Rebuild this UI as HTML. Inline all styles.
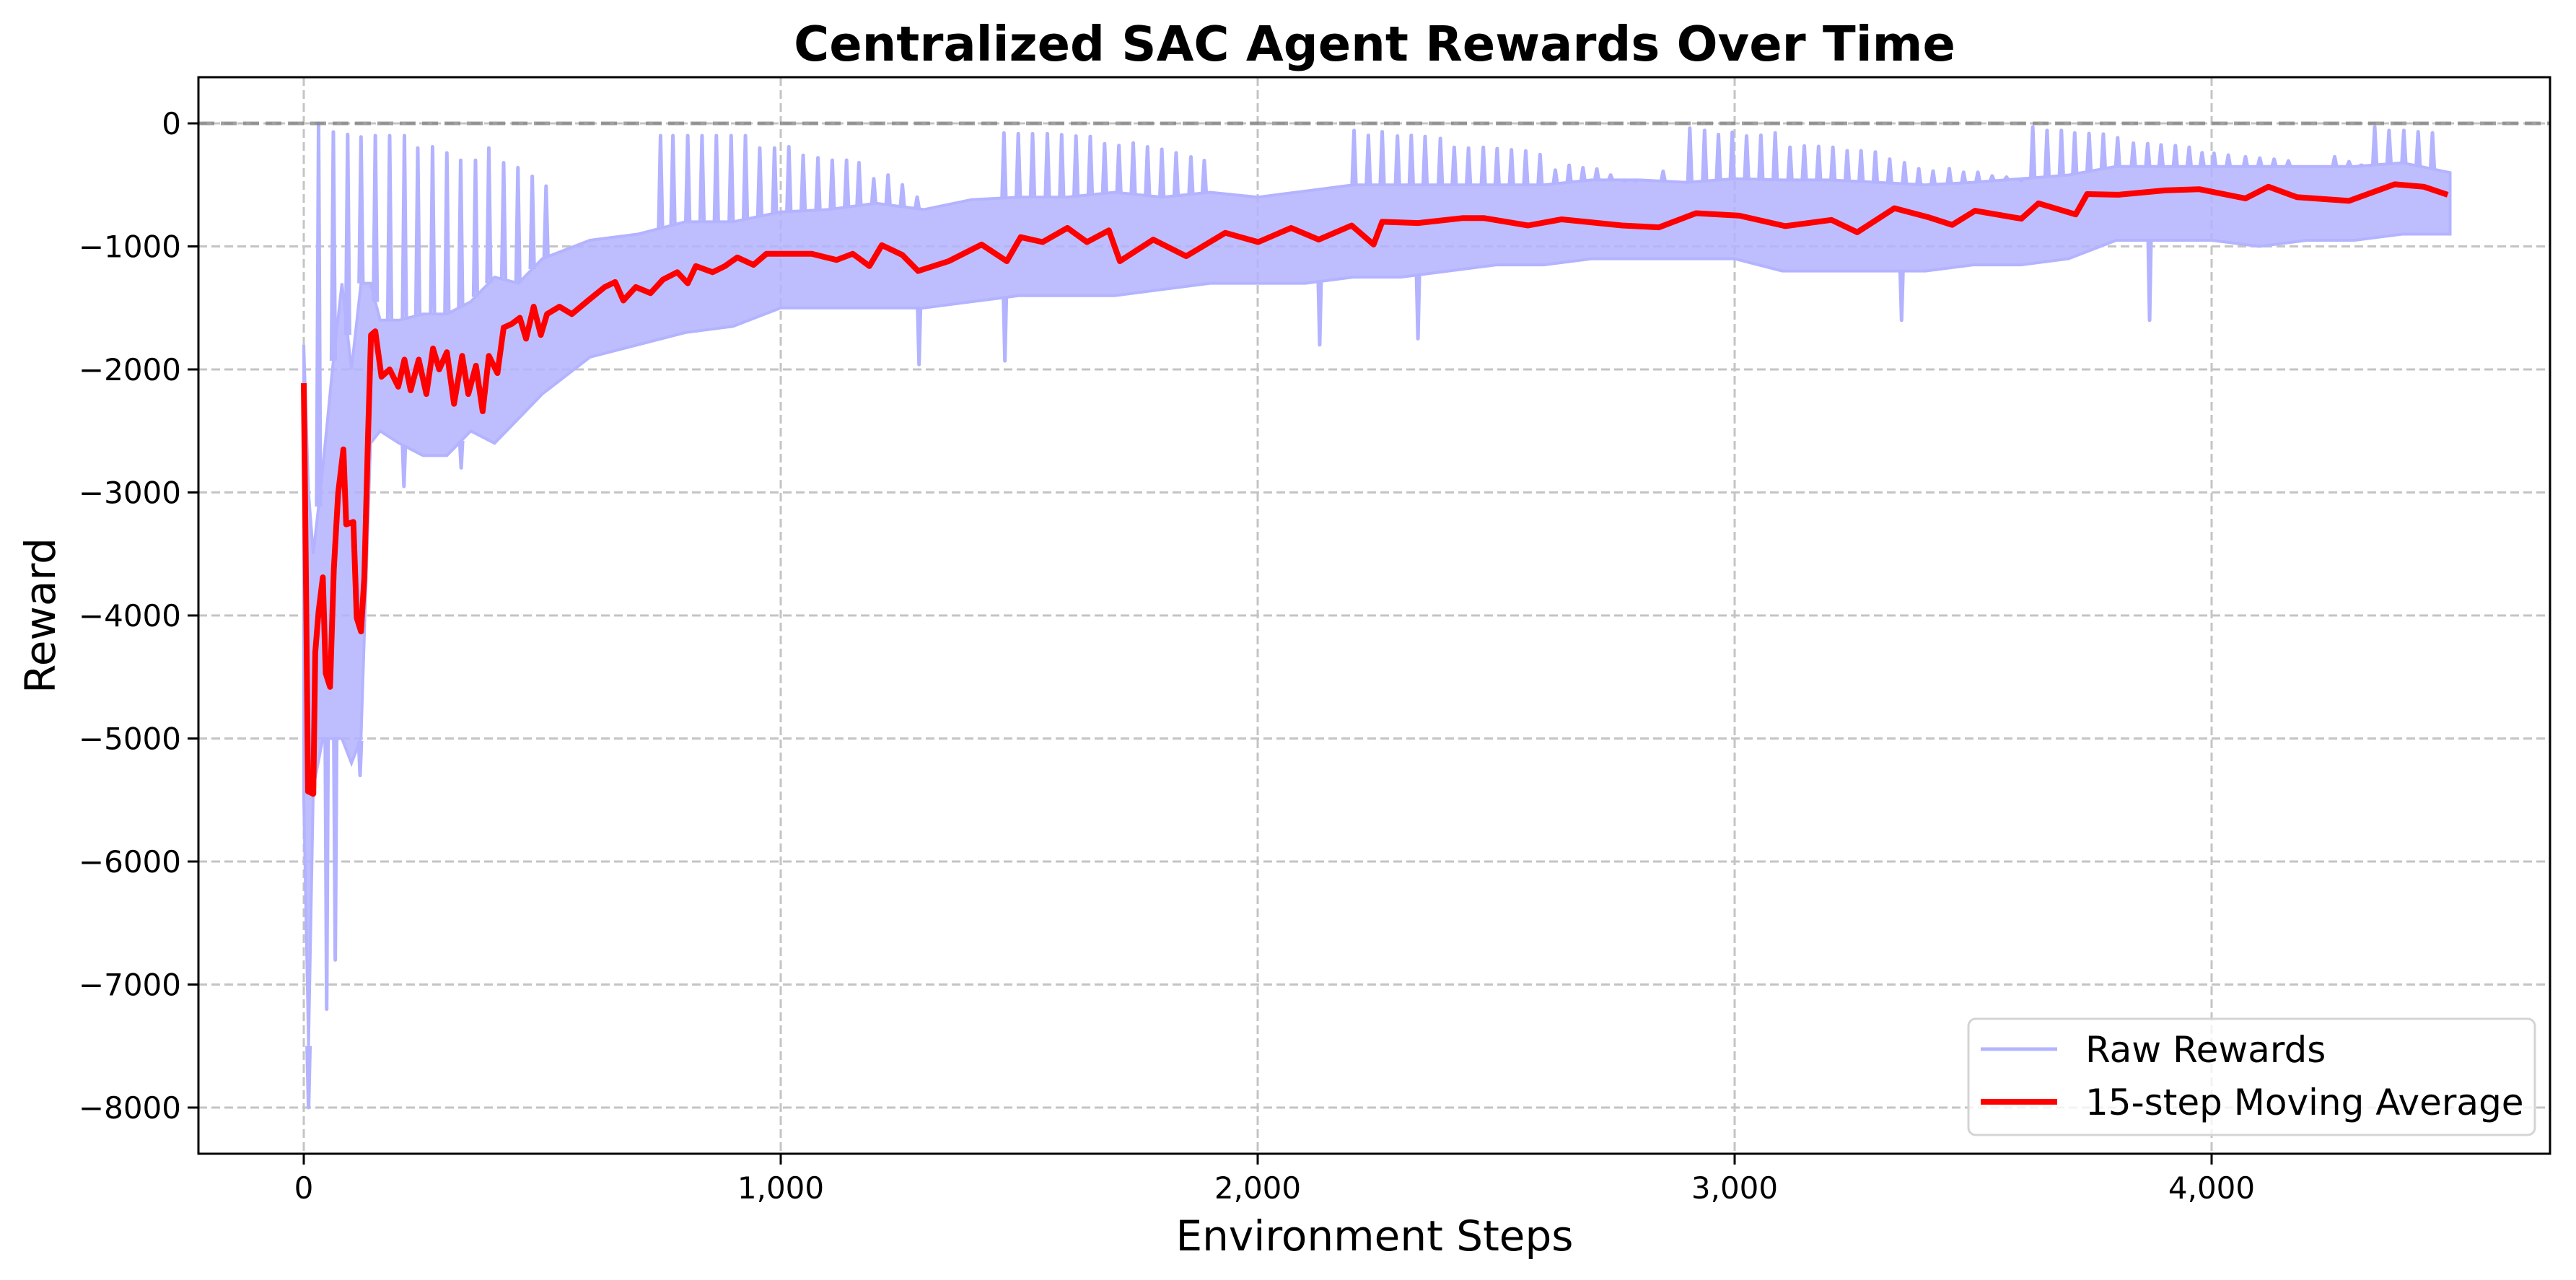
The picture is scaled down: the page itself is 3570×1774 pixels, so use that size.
<!DOCTYPE html>
<html><head><meta charset="utf-8"><style>
html,body{margin:0;padding:0;background:#fff;}
svg{display:block;font-family:"DejaVu Sans","Liberation Sans",sans-serif;}
</style></head><body>
<svg id="chart" xmlns="http://www.w3.org/2000/svg" width="3570" height="1774" viewBox="0 0 3570 1774">
<rect x="0" y="0" width="3570" height="1774" fill="#fff"/>
<g id="grid"></g>
<g id="series"></g>
<g id="axes"></g>
<text x="1905" y="84" text-anchor="middle" font-size="67" font-weight="bold">Centralized SAC Agent Rewards Over Time</text>
<text x="1905" y="1733" text-anchor="middle" font-size="58">Environment Steps</text>
<text transform="translate(76,853) rotate(-90)" text-anchor="middle" font-size="58">Reward</text>
<g>
<rect x="2728" y="1412" width="785" height="161" rx="10" fill="#fff" fill-opacity="0.8" stroke="#d4d4d4" stroke-width="3"/>
<g>
<line x1="2745" y1="1454" x2="2851" y2="1454" stroke="#b3b3ff" stroke-width="5"/>
<text x="2890" y="1472" font-size="50">Raw Rewards</text>
</g>
<g>
<line x1="2745" y1="1527" x2="2851" y2="1527" stroke="#ff0000" stroke-width="8"/>
<text x="2890" y="1545" font-size="50">15-step Moving Average</text>
</g>
</g>
</svg>
<script>
const xTicks = [0, 1000, 2000, 3000, 4000];
const xTickLabels = ["0", "1,000", "2,000", "3,000", "4,000"];
const yTicks = [0, -1000, -2000, -3000, -4000, -5000, -6000, -7000, -8000];
const yTickLabels = ["0", "\u22121000", "\u22122000", "\u22123000", "\u22124000", "\u22125000", "\u22126000", "\u22127000", "\u22128000"];

const maSteps = [0,5,9,20,24,31,40,46,55,63,72,83,89,104,111,120,127,135,141,150,163,180,198,211,224,241,257,271,284,300,315,332,345,361,375,388,406,419,436,453,466,482,497,510,536,562,596,631,653,670,696,727,753,783,805,822,857,883,909,943,970,1004,1065,1117,1151,1186,1212,1255,1288,1352,1421,1474,1503,1549,1601,1642,1688,1711,1781,1850,1932,2001,2070,2128,2197,2243,2261,2336,2429,2475,2567,2637,2764,2841,2919,3010,3106,3203,3257,3335,3408,3456,3504,3601,3637,3715,3739,3805,3902,3974,4071,4119,4179,4288,4384,4445,4495];
const maValues = [-2112,-3850,-5430,-5450,-4300,-3970,-3690,-4470,-4580,-3630,-3010,-2650,-3260,-3240,-4020,-4130,-3690,-2510,-1720,-1690,-2060,-2000,-2140,-1920,-2170,-1920,-2200,-1830,-2000,-1860,-2280,-1890,-2200,-1970,-2340,-1890,-2030,-1660,-1630,-1580,-1750,-1490,-1720,-1550,-1490,-1550,-1440,-1330,-1290,-1440,-1330,-1380,-1270,-1210,-1300,-1160,-1210,-1160,-1090,-1150,-1060,-1060,-1060,-1110,-1060,-1160,-990,-1070,-1200,-1120,-985,-1120,-925,-965,-850,-965,-870,-1120,-945,-1080,-890,-965,-850,-945,-830,-985,-800,-810,-770,-770,-830,-780,-830,-845,-730,-750,-835,-785,-885,-690,-765,-825,-710,-775,-650,-740,-575,-580,-545,-535,-610,-515,-600,-630,-495,-515,-580];

const rawSteps = [0,10,20,40,60,80,100,120,140,160,200,250,300,350,400,450,500,600,700,800,900,1000,1100,1200,1300,1400,1500,1600,1700,1800,1900,2000,2100,2200,2300,2400,2500,2600,2700,2800,2900,3000,3100,3200,3300,3400,3500,3600,3700,3800,3900,4000,4100,4200,4300,4400,4500];
const rawHigh = [-1800,-3000,-3500,-2800,-2000,-1300,-2000,-1300,-1300,-1600,-1600,-1550,-1550,-1450,-1250,-1300,-1100,-950,-900,-800,-800,-720,-700,-650,-700,-620,-600,-600,-560,-600,-560,-600,-550,-500,-500,-500,-500,-500,-460,-460,-480,-450,-460,-460,-480,-500,-480,-450,-420,-350,-350,-350,-350,-350,-350,-320,-400];
const rawLow = [-5500,-7500,-5400,-5000,-5000,-5000,-5200,-5000,-2600,-2500,-2600,-2700,-2700,-2500,-2600,-2400,-2200,-1900,-1800,-1700,-1650,-1500,-1500,-1500,-1500,-1450,-1400,-1400,-1400,-1350,-1300,-1300,-1300,-1250,-1250,-1200,-1150,-1150,-1100,-1100,-1100,-1100,-1200,-1200,-1200,-1200,-1150,-1150,-1100,-950,-950,-950,-1000,-950,-950,-900,-900];

const spikeSteps = [31,62,92,120,150,180,211,239,270,300,329,360,388,419,449,479,508,
748,774,805,835,865,896,926,956,987,1017,1047,1078,1108,1138,1164,1195,1225,1255,1286,
1468,1498,1528,1559,1589,1619,1649,1679,1709,1739,1769,1799,1829,1860,1888,
2202,2232,2261,2293,2322,2351,2383,2412,2442,2473,2502,2532,2562,2592,2624,2653,2682,2711,2740,2769,2792,2850,
2906,2937,2966,2995,3025,3055,3085,3116,3146,3176,3206,3236,3265,3295,3325,3356,3386,3416,3450,3480,3510,3540,3570,3601,
3625,3655,3685,3713,3743,3773,3803,3836,3866,3894,3924,3953,3980,4005,4035,4071,4101,4131,4161,4258,4288,4314,4342,4372,4403,4433,4463];
const spikePeaks = [0,-70,-90,-110,-100,-100,-100,-200,-190,-240,-300,-300,-200,-320,-360,-430,-510,
-100,-100,-100,-100,-100,-100,-100,-200,-200,-190,-260,-280,-300,-300,-320,-450,-420,-500,-600,
-78,-84,-84,-84,-92,-103,-107,-166,-180,-160,-191,-211,-240,-273,-302,
-59,-98,-68,-103,-98,-107,-123,-195,-201,-195,-205,-215,-224,-254,-380,-341,-361,-371,-420,-468,-468,-390,
-39,-58,-91,-72,-103,-97,-78,-194,-184,-188,-194,-223,-223,-233,-291,-320,-369,-388,-369,-398,-398,-427,-437,-466,
-29,-58,-58,-78,-83,-87,-117,-161,-165,-175,-181,-194,-239,-243,-258,-272,-282,-291,-305,-272,-311,-340,-29,-58,-58,-68,-78];
const dipSteps = [10,48,66,118,210,330,1290,1470,2130,2336,3350,3870];
const dipValues = [-8000,-7200,-6800,-5300,-2950,-2800,-1960,-1930,-1800,-1750,-1600,-1600];

const X0 = 421, XPER = 0.661, Y0 = 171, YPER = 0.1705;
const PL = 275, PR = 3534, PT = 107, PB = 1599;
function xs(s){ return X0 + s * XPER; }
function ys(v){ return Y0 - v * YPER; }
function interp(steps, vals, s){
  if (s <= steps[0]) return vals[0];
  for (let i = 1; i < steps.length; i++) {
    if (s <= steps[i]) { const t = (s - steps[i-1]) / (steps[i] - steps[i-1]); return vals[i-1] + t * (vals[i] - vals[i-1]); }
  }
  return vals[vals.length - 1];
}
const NS = "http://www.w3.org/2000/svg";
function mk(tag, attrs, parent){ const e = document.createElementNS(NS, tag); for (const k in attrs) e.setAttribute(k, attrs[k]); parent.appendChild(e); return e; }

const grid = document.getElementById('grid');
const series = document.getElementById('series');
const axes = document.getElementById('axes');

xTicks.forEach((t, i) => {
  const g = mk('line', {x1: xs(t), x2: xs(t), y1: PT, y2: PB, stroke: '#c4c4c4', 'stroke-width': 3, 'stroke-dasharray': '12 6'}, grid);
  
  
  const tk = mk('line', {x1: xs(t), x2: xs(t), y1: PB, y2: PB + 15, stroke: '#000', 'stroke-width': 3}, axes);
  
  
  const lb = mk('text', {x: xs(t), y: PB + 62, 'text-anchor': 'middle', 'font-size': 42}, axes);
  lb.textContent = xTickLabels[i];
  
  
});
yTicks.forEach((t, i) => {
  const g = mk('line', {x1: PL, x2: PR, y1: ys(t), y2: ys(t), stroke: '#c4c4c4', 'stroke-width': 3, 'stroke-dasharray': '12 6'}, grid);
  
  
  const tk = mk('line', {x1: PL - 15, x2: PL, y1: ys(t), y2: ys(t), stroke: '#000', 'stroke-width': 3}, axes);
  
  
  const lb = mk('text', {x: PL - 24, y: ys(t) + 15, 'text-anchor': 'end', 'font-size': 42}, axes);
  lb.textContent = yTickLabels[i];
  
  
});

// raw band
let pts = [];
rawSteps.forEach((s, i) => pts.push(xs(s).toFixed(1) + ',' + ys(rawHigh[i]).toFixed(1)));
for (let i = rawSteps.length - 1; i >= 0; i--) pts.push(xs(rawSteps[i]).toFixed(1) + ',' + ys(rawLow[i]).toFixed(1));
const band = mk('polygon', {points: pts.join(' '), fill: '#b3b3ff', 'fill-opacity': 0.85, stroke: '#b3b3ff', 'stroke-width': 4}, series);



spikeSteps.forEach((s, i) => {
  const base = interp(rawSteps, rawHigh, s);
  const p = mk('polyline', {points: `${xs(s-4)},${ys(base)} ${xs(s)},${ys(spikePeaks[i])} ${xs(s+4)},${ys(base)}`, fill: 'none', stroke: '#b3b3ff', 'stroke-width': 5, 'stroke-linejoin': 'round'}, series);
  
  
});
dipSteps.forEach((s, i) => {
  const base = interp(rawSteps, rawLow, s);
  const p = mk('polyline', {points: `${xs(s-3)},${ys(base)} ${xs(s)},${ys(dipValues[i])} ${xs(s+3)},${ys(base)}`, fill: 'none', stroke: '#b3b3ff', 'stroke-width': 5, 'stroke-linejoin': 'round'}, series);
  
  
});

const ma = mk('polyline', {points: maSteps.map((s, i) => xs(s).toFixed(1) + ',' + ys(maValues[i]).toFixed(1)).join(' '), fill: 'none', stroke: '#ff0000', 'stroke-width': 8, 'stroke-linejoin': 'round'}, series);



const zl = mk('line', {x1: PL, x2: PR, y1: ys(0), y2: ys(0), stroke: '#808080', 'stroke-opacity': 0.75, 'stroke-width': 5, 'stroke-dasharray': '22 9'}, series);



const frame = mk('rect', {x: PL, y: PT, width: PR - PL, height: PB - PT, fill: 'none', stroke: '#000', 'stroke-width': 3}, axes);


</script>
</body></html>
